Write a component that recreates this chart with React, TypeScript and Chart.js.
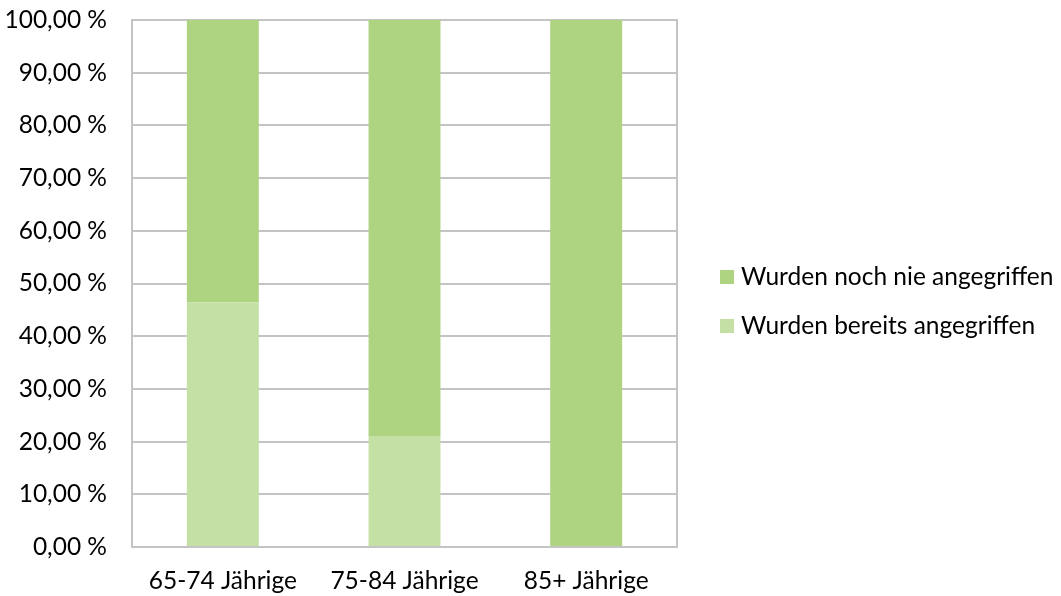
import React, { useEffect, useRef } from "react";
import { Chart, registerables } from "chart.js";

Chart.register(...registerables);

const categories = ["65-74 Jährige", "75-84 Jährige", "85+ Jährige"];
const seriesNames = ["Wurden bereits angegriffen", "Wurden noch nie angegriffen"];
const attacked = [46.43, 21.05, 0];
const neverAttacked = [53.57, 78.95, 100];
const yTicks = [0, 10, 20, 30, 40, 50, 60, 70, 80, 90, 100];

const colorAttacked = "#C5E0A5";
const colorNever = "#AED482";
const gridColor = "#C4C4C4";
const fontFamily = "Lato, 'Noto Sans', sans-serif";
const fontSize = 24.5;

const formatPercent = (v: number) => v.toFixed(2).replace(".", ",") + " %";

// Outline of the plot area, drawn beneath the bars
const plotFrame = {
  id: "plotFrame",
  beforeDatasetsDraw(chart: any) {
    const { ctx, chartArea } = chart;
    ctx.save();
    ctx.strokeStyle = gridColor;
    ctx.lineWidth = 2;
    ctx.strokeRect(chartArea.left, chartArea.top, chartArea.right - chartArea.left, chartArea.bottom - chartArea.top);
    ctx.restore();
  },
};

// Legend on the right, top stack segment listed first
const sideLegend = {
  id: "sideLegend",
  afterDraw(chart: any) {
    const { ctx } = chart;
    const items = chart.data.datasets.map((d: any) => ({ label: d.label, color: d.backgroundColor })).reverse();
    const boxX = 720;
    const box = 14;
    const firstY = 277;
    const step = 49;
    ctx.save();
    ctx.font = `${fontSize}px ${fontFamily}`;
    ctx.textBaseline = "middle";
    ctx.textAlign = "left";
    items.forEach((it: any, i: number) => {
      const cy = firstY + i * step;
      ctx.fillStyle = it.color;
      ctx.fillRect(boxX, cy - box / 2, box, box);
      ctx.fillStyle = "#000000";
      ctx.fillText(it.label, boxX + 21, cy);
    });
    ctx.restore();
  },
};

export default function App() {
  const canvasRef = useRef<HTMLCanvasElement>(null);

  useEffect(() => {
    if (!canvasRef.current) return;
    const chart = new Chart(canvasRef.current, {
      type: "bar",
      data: {
        labels: categories,
        datasets: [
          { label: seriesNames[0], data: attacked, backgroundColor: colorAttacked, borderWidth: 0 },
          { label: seriesNames[1], data: neverAttacked, backgroundColor: colorNever, borderWidth: 0 },
        ],
      },
      options: {
        responsive: false,
        animation: false,
        layout: { padding: { top: 20, right: 384, left: 0, bottom: 0 } },
        plugins: { legend: { display: false }, tooltip: { enabled: false } },
        datasets: { bar: { categoryPercentage: 1, barPercentage: 0.396 } },
        scales: {
          x: {
            stacked: true,
            grid: { display: false, drawTicks: false },
            border: { display: false },
            ticks: { color: "#000000", padding: 19, font: { family: fontFamily, size: fontSize } },
            afterFit: (s: any) => {
              s.height = 49;
              s.paddingLeft = 0;
              s.paddingRight = 0;
            },
          },
          y: {
            stacked: true,
            min: 0,
            max: 100,
            afterBuildTicks: (s: any) => { s.ticks = yTicks.map((v) => ({ value: v })); },
            grid: { color: gridColor, lineWidth: 2, drawTicks: false },
            border: { display: false },
            ticks: {
              color: "#000000",
              padding: 25,
              font: { family: fontFamily, size: fontSize },
              callback: (v: any) => formatPercent(Number(v)),
            },
            afterFit: (s: any) => {
              s.width = 132;
              s.paddingTop = 0;
              s.paddingBottom = 0;
            },
          },
        },
      },
      plugins: [plotFrame, sideLegend],
    });
    return () => chart.destroy();
  }, []);

  return (
    <div style={{ position: "absolute", left: 0, top: 0, width: 1061, height: 596, background: "#ffffff" }}>
      <canvas ref={canvasRef} width={1061} height={596} />
    </div>
  );
}
